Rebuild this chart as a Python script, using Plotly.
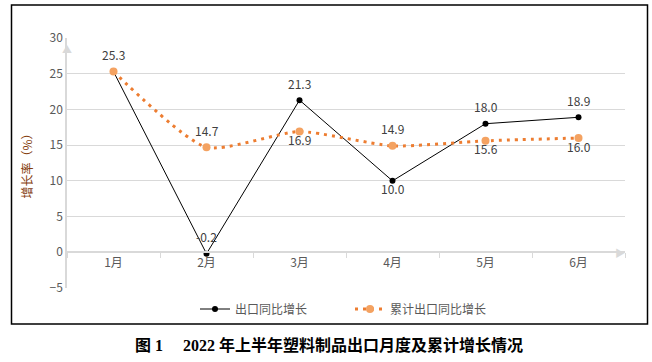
import plotly.graph_objects as go

months = ["1月", "2月", "3月", "4月", "5月", "6月"]
monthly = [25.3, -0.2, 21.3, 10.0, 18.0, 18.9]
cumulative = [25.3, 14.7, 16.9, 14.9, 15.6, 16.0]
monthly_pos = ["above", "above", "above", "below", "above", "above"]
cumulative_pos = [None, "above", "below", "above", "below", "below"]
y_ticks = [-5, 0, 5, 10, 15, 20, 25, 30]

W, H = 652, 362
L, T = 67, 38
R = W - 625
B = H - 288
pw, ph = W - L - R, H - T - B
ymin, ymax = -5, 30

def px_x(p):
    return (p - L) / pw

def px_y(p):
    return (H - B - p) / ph

font_main = "Noto Sans CJK SC, Open Sans, sans-serif"
grid = "#D9D9D9"
label_col = "#404040"
tick_col = "#595959"

fig = go.Figure()
fig.add_trace(go.Scatter(
    x=months, y=monthly, name="出口同比增长", mode="lines+markers",
    line=dict(color="#000000", width=1),
    marker=dict(color="#000000", size=6),
))
fig.add_trace(go.Scatter(
    x=months, y=cumulative, name="累计出口同比增长", mode="lines+markers",
    line=dict(color="#ED7D31", width=3, dash="3px,5px", shape="spline", smoothing=0.6),
    marker=dict(color="#F4A261", size=8),
))

annotations = []
for series, pos in ((monthly, monthly_pos), (cumulative, cumulative_pos)):
    for m, v, p in zip(months, series, pos):
        if p is None:
            continue
        annotations.append(dict(
            x=m, y=v, xref="x", yref="y", text=f"{v:.1f}", showarrow=False,
            yshift=17 if p == "above" else -8,
            font=dict(family=font_main, size=12, color=label_col),
        ))

# axis arrows
annotations.append(dict(x=-0.5, y=ymax, xref="x", yref="y", text="▲", showarrow=False,
                        yanchor="top", yshift=-1, font=dict(size=10, color=grid)))
annotations.append(dict(x=5.5, y=0, xref="x", yref="y", text="▶", showarrow=False,
                        xanchor="right", xshift=2, font=dict(size=10, color=grid)))

# caption
annotations.append(dict(
    x=px_x(329), y=px_y(345), xref="paper", yref="paper", showarrow=False,
    text="<b>图 1　 2022 年上半年塑料制品出口月度及累计增长情况</b>",
    font=dict(family="Liberation Serif, Noto Sans CJK SC, serif", size=16, color="#000000"),
    xanchor="center", yanchor="middle",
))

fig.update_layout(
    width=W, height=H,
    margin=dict(l=L, r=R, t=T, b=B, autoexpand=False),
    paper_bgcolor="white", plot_bgcolor="white",
    font=dict(family=font_main, size=12, color=tick_col),
    showlegend=True,
    legend=dict(orientation="h", x=px_x(195), y=px_y(309), xanchor="left", yanchor="middle",
                font=dict(family=font_main, size=12, color=tick_col), itemwidth=30,
                entrywidth=110, bgcolor="rgba(0,0,0,0)"),
    annotations=annotations,
    shapes=[dict(type="rect", xref="paper", yref="paper",
                 x0=px_x(11.5), x1=px_x(647.5), y0=px_y(324), y1=px_y(5),
                 line=dict(color="#000000", width=1.5), fillcolor="rgba(0,0,0,0)", layer="below")],
    xaxis=dict(
        type="category", range=[-0.5, 5.5], anchor="free", automargin=False,
        position=(0 - ymin) / (ymax - ymin),
        showline=True, linecolor=grid, linewidth=1.5,
        ticks="outside", ticklen=5, tickcolor=grid, tickson="boundaries",
        showgrid=False, tickfont=dict(family=font_main, size=12, color=tick_col),
    ),
    yaxis=dict(
        range=[ymin, ymax], tickvals=y_ticks, showgrid=True, gridcolor=grid, gridwidth=1,
        zeroline=False, showline=True, linecolor=grid, linewidth=1.5, automargin=False,
        tickfont=dict(family=font_main, size=12, color=tick_col),
        title=dict(text="增长率（%）", font=dict(family=font_main, size=12, color="#843C0C"), standoff=14),
    ),
)

fig.write_html("out.html", config={"displayModeBar": False},
               post_script="document.body.style.margin='0';document.body.style.overflow='hidden';")
